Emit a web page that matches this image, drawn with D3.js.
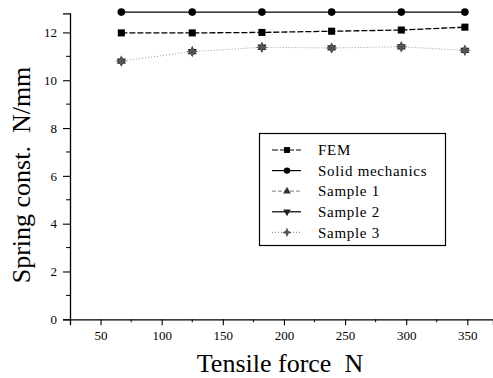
<!DOCTYPE html>
<html>
<head>
<meta charset="utf-8">
<script src="https://cdn.jsdelivr.net/npm/d3@7"></script>
<style>
  body { margin: 0; background: #fff; }
  svg text { font-family: 'Liberation Serif', 'Times New Roman', serif; }
</style>
</head>
<body>
<svg id="chart"></svg>
<script>
// tensile force (N) at each measurement
const force = [67, 125, 182, 239, 296, 348];
const fem = [11.98, 11.98, 12.0, 12.05, 12.1, 12.22];
const solid = [12.85, 12.85, 12.85, 12.85, 12.85, 12.85];
const sample1 = [10.8, 11.2, 11.38, 11.35, 11.4, 11.25];
const sample2 = [10.8, 11.2, 11.38, 11.35, 11.4, 11.25];
const sample3 = [10.8, 11.2, 11.38, 11.35, 11.4, 11.25];
const seriesNames = ['FEM', 'Solid mechanics', 'Sample 1', 'Sample 2', 'Sample 3'];
const xTicks = [50, 100, 150, 200, 250, 300, 350];
const yTicks = [0, 2, 4, 6, 8, 10, 12];

const width = 493, height = 378;
const svg = d3.select('#chart')
    .attr('width', width)
    .attr('height', height);

const x = d3.scaleLinear().domain([25, 371]).range([70, 493]);
const y = d3.scaleLinear().domain([0, 12.8]).range([319.3, 13.3]);

// 4 point star, like the sample 3 marker
const star4 = {
    draw(ctx, size) {
        const r = Math.sqrt(size) * 0.75, q = r * 0.3;
        ctx.moveTo(0, -r);
        ctx.lineTo(q, -q); ctx.lineTo(r, 0); ctx.lineTo(q, q);
        ctx.lineTo(0, r); ctx.lineTo(-q, q); ctx.lineTo(-r, 0); ctx.lineTo(-q, -q);
        ctx.closePath();
    }
};

const series = [
    { name: seriesNames[0], values: fem, symbol: d3.symbolSquare, size: 50, rot: 0, fill: '#000', stroke: '#000', dash: '6,2', line: true },
    { name: seriesNames[1], values: solid, symbol: d3.symbolCircle, size: 46, rot: 0, fill: '#000', stroke: '#000', dash: null, line: true },
    { name: seriesNames[2], values: sample1, symbol: d3.symbolTriangle, size: 36, rot: 0, fill: '#333', stroke: '#999', dash: '4,2', line: false },
    { name: seriesNames[3], values: sample2, symbol: d3.symbolTriangle, size: 36, rot: 180, fill: '#222', stroke: '#000', dash: null, line: false },
    { name: seriesNames[4], values: sample3, symbol: star4, size: 60, rot: 0, fill: '#555', stroke: '#999', dash: '1,2', line: true }
];

// axes
const xAxis = d3.axisBottom(x).tickValues(xTicks).tickSize(6).tickPadding(5);
const yAxis = d3.axisLeft(y).tickValues(yTicks).tickSize(7).tickPadding(6);

const gx = svg.append('g').attr('transform', 'translate(0,' + y(0) + ')').call(xAxis);
const gy = svg.append('g').attr('transform', 'translate(' + x(25) + ',0)').call(yAxis);
[gx, gy].forEach(g => {
    g.attr('font-family', null).attr('font-size', 13);
    g.select('.domain').attr('stroke', '#000').attr('stroke-width', 1.3);
    g.selectAll('.tick line').attr('stroke', '#000').attr('stroke-width', 1.1);
    g.selectAll('.tick text').attr('fill', '#000');
});

// minor ticks
svg.append('g').selectAll('line')
    .data(d3.range(75, 371, 50))
    .enter().append('line')
    .attr('x1', d => x(d)).attr('x2', d => x(d))
    .attr('y1', y(0)).attr('y2', y(0) + 3)
    .attr('stroke', '#000');
svg.append('g').selectAll('line')
    .data(d3.range(1, 12.8, 2))
    .enter().append('line')
    .attr('x1', x(25)).attr('x2', x(25) - 4)
    .attr('y1', d => y(d)).attr('y2', d => y(d))
    .attr('stroke', '#000');

// axis titles
svg.append('text')
    .attr('x', 280).attr('y', 372)
    .attr('text-anchor', 'middle')
    .attr('font-size', 26)
    .attr('xml:space', 'preserve')
    .text('Tensile force  N');
svg.append('text')
    .attr('transform', 'translate(30,175) rotate(-90)')
    .attr('text-anchor', 'middle')
    .attr('font-size', 26)
    .attr('xml:space', 'preserve')
    .text('Spring const.  N/mm');

// lines and markers
const line = d3.line().x((d, i) => x(force[i])).y(d => y(d));

series.forEach(s => {
    if (s.line) {
        svg.append('path')
            .datum(s.values)
            .attr('d', line)
            .attr('fill', 'none')
            .attr('stroke', s.stroke)
            .attr('stroke-width', s.name === 'Sample 3' ? 1 : 1.3)
            .attr('stroke-dasharray', s.dash);
    }
    svg.append('g').selectAll('path')
        .data(s.values)
        .enter().append('path')
        .attr('d', d3.symbol().type(s.symbol).size(s.size))
        .attr('transform', (d, i) => 'translate(' + x(force[i]) + ',' + y(d) + ') rotate(' + s.rot + ')')
        .attr('fill', s.fill);
});

// legend
const legend = svg.append('g');
legend.append('rect')
    .attr('x', 259.5).attr('y', 133.5)
    .attr('width', 186).attr('height', 112)
    .attr('fill', '#fff')
    .attr('stroke', '#000')
    .attr('stroke-width', 1.2);

const rows = legend.selectAll('g.row')
    .data(series)
    .enter().append('g')
    .attr('class', 'row')
    .attr('transform', (d, i) => 'translate(0,' + (150 + i * 20.6) + ')');

rows.append('line')
    .attr('x1', 272).attr('x2', 301)
    .attr('y1', 0).attr('y2', 0)
    .attr('stroke', d => d.stroke)
    .attr('stroke-width', 1.2)
    .attr('stroke-dasharray', d => d.dash);
rows.append('path')
    .attr('d', d => d3.symbol().type(d.symbol).size(d.size * 0.7)())
    .attr('transform', d => 'translate(287,0) rotate(' + d.rot + ')')
    .attr('fill', d => d.fill);
rows.append('text')
    .attr('x', 318).attr('y', 0)
    .attr('dy', '0.35em')
    .attr('font-size', 15)
    .attr('letter-spacing', 0.7)
    .attr('fill', '#000')
    .text(d => d.name);
</script>
</body>
</html>
